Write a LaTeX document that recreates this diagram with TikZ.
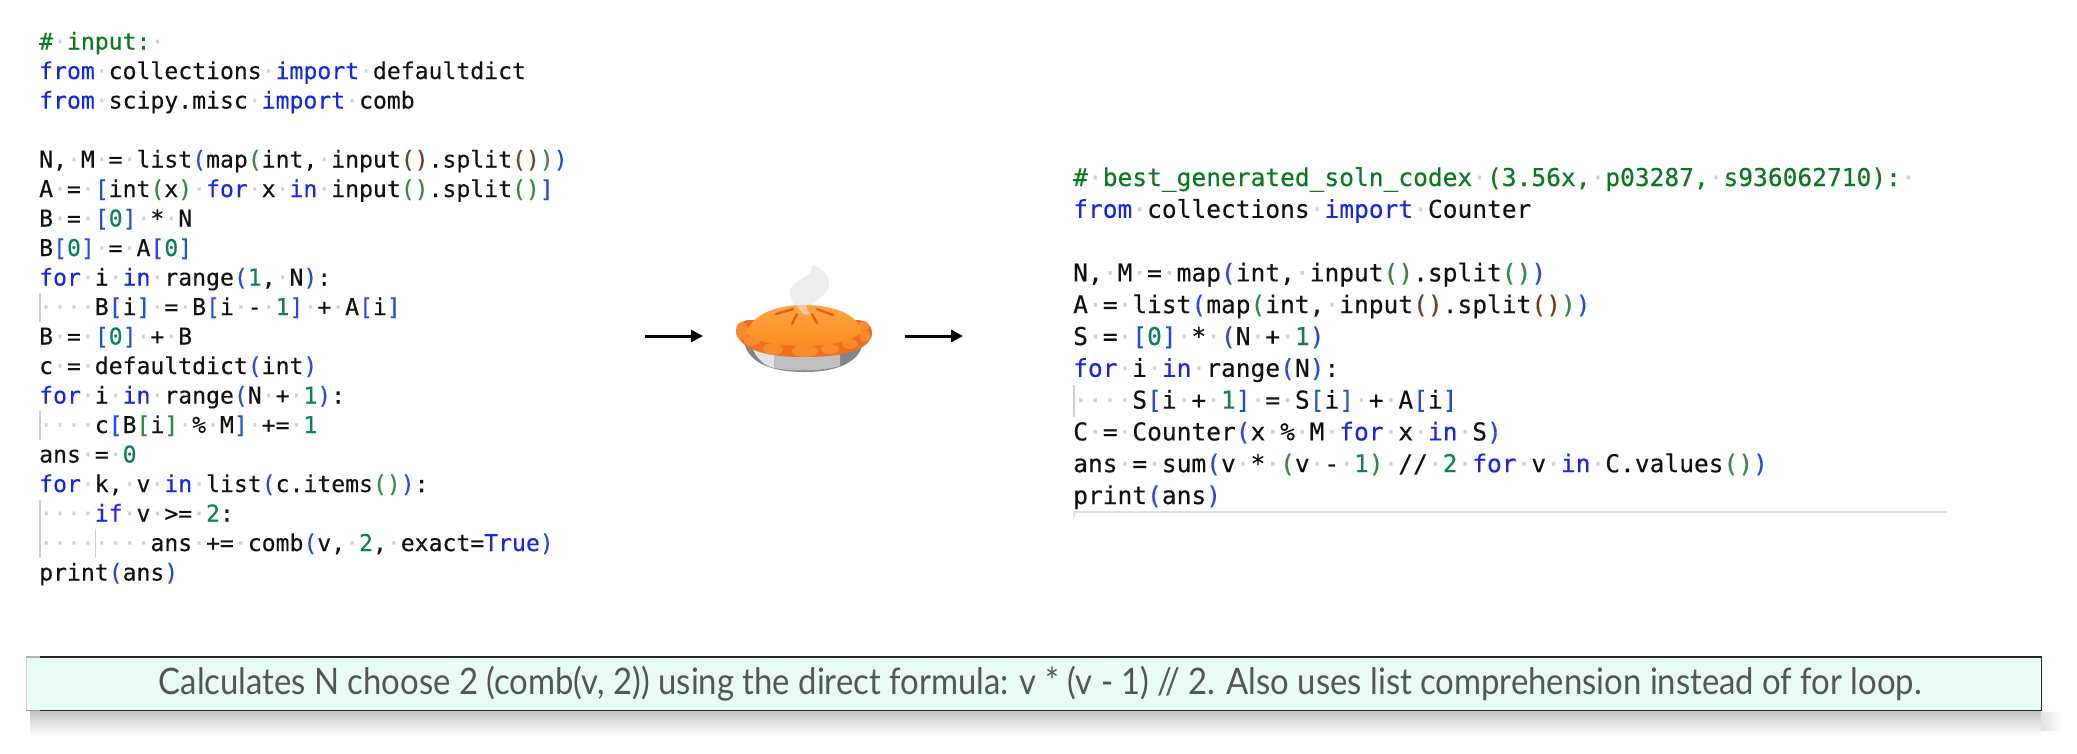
\documentclass[tikz,border=0pt]{standalone}
\usepackage{fontspec}
\usetikzlibrary{arrows.meta}
\setmainfont{Lato}
\newfontfamily\codefont[FakeBold=0.25]{DejaVu Sans Mono}
\definecolor{kwc}{HTML}{1428E0}
\definecolor{cmc}{HTML}{0B7A1E}
\definecolor{numc}{HTML}{0B7F5F}
\definecolor{brA}{HTML}{1F4FE0}
\definecolor{brB}{HTML}{2E8B46}
\definecolor{brC}{HTML}{7A3A1C}
\definecolor{dotc}{HTML}{CDD3D6}
\definecolor{txtc}{HTML}{111111}
\definecolor{guidec}{HTML}{CFCFCF}
\definecolor{notefill}{HTML}{E8FCF3}
\definecolor{notetext}{HTML}{555555}
\definecolor{crustc}{HTML}{EE6F1E}
\definecolor{bumpc}{HTML}{F68C2E}
\definecolor{domeT}{HTML}{FFA444}
\definecolor{domeB}{HTML}{FB8C22}
\definecolor{ventc}{HTML}{E0601A}
\newcommand{\Kw}[1]{\textcolor{kwc}{#1}}
\newcommand{\Cm}[1]{\textcolor{cmc}{#1}}
\newcommand{\Nm}[1]{\textcolor{numc}{#1}}
\newcommand{\Ba}[1]{\textcolor{brA}{#1}}
\newcommand{\Bb}[1]{\textcolor{brB}{#1}}
\newcommand{\Bc}[1]{\textcolor{brC}{#1}}
\newcommand{\Sp}{\textcolor{dotc}{·}}
\newcommand{\Ind}{\Sp\Sp\Sp\Sp}
\tikzset{
  x=1pt,y=-1pt,
  codeblock/.style={anchor=base west,inner sep=0pt,align=left,text=txtc},
  flowarrow/.style={line width=3pt,-{Triangle[length=12pt,width=12pt]}},
  guide/.style={draw=guidec,line width=1.4pt},
  noteedge/.style={line width=1.5pt,draw=black!85},
  vent/.style={line width=2.4pt,line cap=round,draw=ventc},
}
\begin{document}
\begin{tikzpicture}
\useasboundingbox (0,0) rectangle (2077,753);
\fill[white] (0,0) rectangle (2077,753);

% ---- left code
\node[codeblock,font={\codefont\fontsize{23.1}{29.5}\selectfont}] (leftcode) at (39,580.5) {%
\Cm{\#\Sp input:\Sp}\\
\Kw{from}\Sp collections\Sp\Kw{import}\Sp defaultdict\\
\Kw{from}\Sp scipy.misc\Sp\Kw{import}\Sp comb\\
\mbox{}\\
N,\Sp M\Sp=\Sp list\Ba{(}map\Bb{(}int,\Sp input\Bc{()}.split\Bc{()}\Bb{)}\Ba{)}\\
A\Sp=\Sp\Ba{[}int\Bb{(}x\Bb{)}\Sp\Kw{for}\Sp x\Sp\Kw{in}\Sp input\Bb{()}.split\Bb{()}\Ba{]}\\
B\Sp=\Sp\Ba{[}\Nm{0}\Ba{]}\Sp*\Sp N\\
B\Ba{[}\Nm{0}\Ba{]}\Sp=\Sp A\Ba{[}\Nm{0}\Ba{]}\\
\Kw{for}\Sp i\Sp\Kw{in}\Sp range\Ba{(}\Nm{1},\Sp N\Ba{)}:\\
\Ind B\Ba{[}i\Ba{]}\Sp=\Sp B\Ba{[}i\Sp-\Sp\Nm{1}\Ba{]}\Sp+\Sp A\Ba{[}i\Ba{]}\\
B\Sp=\Sp\Ba{[}\Nm{0}\Ba{]}\Sp+\Sp B\\
c\Sp=\Sp defaultdict\Ba{(}int\Ba{)}\\
\Kw{for}\Sp i\Sp\Kw{in}\Sp range\Ba{(}N\Sp+\Sp\Nm{1}\Ba{)}:\\
\Ind c\Ba{[}B\Bb{[}i\Bb{]}\Sp\%\Sp M\Ba{]}\Sp+=\Sp\Nm{1}\\
ans\Sp=\Sp\Nm{0}\\
\Kw{for}\Sp k,\Sp v\Sp\Kw{in}\Sp list\Ba{(}c.items\Bb{()}\Ba{)}:\\
\Ind\Kw{if}\Sp v\Sp>=\Sp\Nm{2}:\\
\Ind\Ind ans\Sp+=\Sp comb\Ba{(}v,\Sp\Nm{2},\Sp exact=\Kw{True}\Ba{)}\\
print\Ba{(}ans\Ba{)}};

\draw[guide] (40,293) -- (40,322);
\draw[guide] (40,411) -- (40,440);
\draw[guide] (40,499.5) -- (40,558);
\draw[guide] (95.5,529) -- (95.5,558);

% ---- right code
\node[codeblock,font={\codefont\fontsize{24.55}{31.8}\selectfont}] (rightcode) at (1073,504) {%
\Cm{\#\Sp best\_generated\_soln\_codex\Sp(3.56x,\Sp p03287,\Sp s936062710):\Sp}\\
\Kw{from}\Sp collections\Sp\Kw{import}\Sp Counter\\
\mbox{}\\
N,\Sp M\Sp=\Sp map\Ba{(}int,\Sp input\Bb{()}.split\Bb{()}\Ba{)}\\
A\Sp=\Sp list\Ba{(}map\Bb{(}int,\Sp input\Bc{()}.split\Bc{()}\Bb{)}\Ba{)}\\
S\Sp=\Sp\Ba{[}\Nm{0}\Ba{]}\Sp*\Sp\Ba{(}N\Sp+\Sp\Nm{1}\Ba{)}\\
\Kw{for}\Sp i\Sp\Kw{in}\Sp range\Ba{(}N\Ba{)}:\\
\Ind S\Ba{[}i\Sp+\Sp\Nm{1}\Ba{]}\Sp=\Sp S\Ba{[}i\Ba{]}\Sp+\Sp A\Ba{[}i\Ba{]}\\
C\Sp=\Sp Counter\Ba{(}x\Sp\%\Sp M\Sp\Kw{for}\Sp x\Sp\Kw{in}\Sp S\Ba{)}\\
ans\Sp=\Sp sum\Ba{(}v\Sp*\Sp\Bb{(}v\Sp-\Sp\Nm{1}\Bb{)}\Sp//\Sp\Nm{2}\Sp\Kw{for}\Sp v\Sp\Kw{in}\Sp C.values\Bb{()}\Ba{)}\\
print\Ba{(}ans\Ba{)}};

\draw[guide] (1074,385) -- (1074,417);
\draw[draw=black!12,line width=1.6pt] (1074,512) -- (1947,512);
\draw[draw=black!10,line width=1.2pt] (1074,512) -- (1074,518);

% ---- arrows
\coordinate (inA) at (645,336);
\coordinate (inB) at (703,336);
\coordinate (outA) at (905,336);
\coordinate (outB) at (963,336);
\draw[flowarrow] (inA) -- (inB);
\draw[flowarrow] (outA) -- (outB);

% ---- pie: steam
\fill[black!7] (812,265) .. controls (822,268) and (830,275) .. (829,285)
  .. controls (828,293) and (818,299) .. (811,305)
  .. controls (806,310) and (804,312) .. (803,314)
  .. controls (796,310) and (790,300) .. (790,292)
  .. controls (791,283) and (802,280) .. (808,275)
  .. controls (811,272) and (812,268) .. (812,265) -- cycle;
% pan
\fill[black!48] (744,342) .. controls (748,362) and (770,372) .. (804,372)
  .. controls (838,372) and (860,362) .. (863,342) -- cycle;
\fill[black!10] (752,346) .. controls (756,360) and (766,366) .. (774,368) -- (774,346) -- cycle;
\fill[black!25] (774,346) -- (774,368) .. controls (795,372) and (822,371) .. (840,366) -- (840,346) -- cycle;
% crust
\fill[crustc] (736,333) .. controls (736,325) and (742,320) .. (750,320)
  -- (858,320) .. controls (868,321) and (873,328) .. (872,335)
  .. controls (868,350) and (845,357) .. (804,357)
  .. controls (765,357) and (742,350) .. (736,333) -- cycle;
% lip bumps
\foreach \bx/\by/\brx/\bry in {742/331/6/9, 752/341/8/5, 773/349/10/6, 805/351/13/6, 830/349/9/5, 850/344/8/5, 865/336/5/6, 864/326/5/5}{
  \fill[bumpc] (\bx,\by) ellipse ({\brx} and {\bry});
}
% dome
\shade[top color=domeT,bottom color=domeB] (746,333)
  .. controls (752,315) and (775,305) .. (804,305)
  .. controls (835,305) and (858,315) .. (862,332)
  .. controls (852,342) and (825,346) .. (804,346)
  .. controls (780,346) and (755,342) .. (746,333) -- cycle;
% vents
\draw[vent] (776,314) -- (793,309);
\draw[vent] (817,309) -- (833,315);
\draw[vent] (797,314) -- (792,324);
\draw[vent] (812,314) -- (817,323);
% steam over the dome
\fill[black!10,opacity=.6] (806,305) .. controls (807,309) and (808,312) .. (810,314)
  .. controls (806,315) and (804,315) .. (803,314) .. controls (801,311) and (798,308) .. (796,305) -- cycle;

% ---- note banner
\shade[top color=black!24,bottom color=white] (30,710) rectangle (2041,736);
\shade[left color=black!12,right color=white] (2041,712) rectangle (2062,730);
\node[minimum width=2015pt,minimum height=53pt,inner sep=0pt,fill=notefill,text=notetext,anchor=north west,
  font=\fontsize{36.5}{40}\selectfont] (note) at (26,657)
  {\hspace{13pt}\scalebox{0.9}[1]{Calculates N choose 2 (comb(v, 2)) using the direct formula: v * (v - 1) // 2. Also uses list comprehension instead of for loop.}};
\draw[noteedge] ([xshift=14pt]note.north west) -- (note.north east) -- (note.south east) -- ([xshift=14pt]note.south west);
\draw[draw=black!20,line width=1pt] (note.north west) -- (note.south west);
\draw[draw=black!30,line width=1.2pt] (note.north west) -- ([xshift=14pt]note.north west);
\draw[draw=black!40,line width=1.2pt] (note.south west) -- ([xshift=14pt]note.south west);
\end{tikzpicture}
\end{document}
